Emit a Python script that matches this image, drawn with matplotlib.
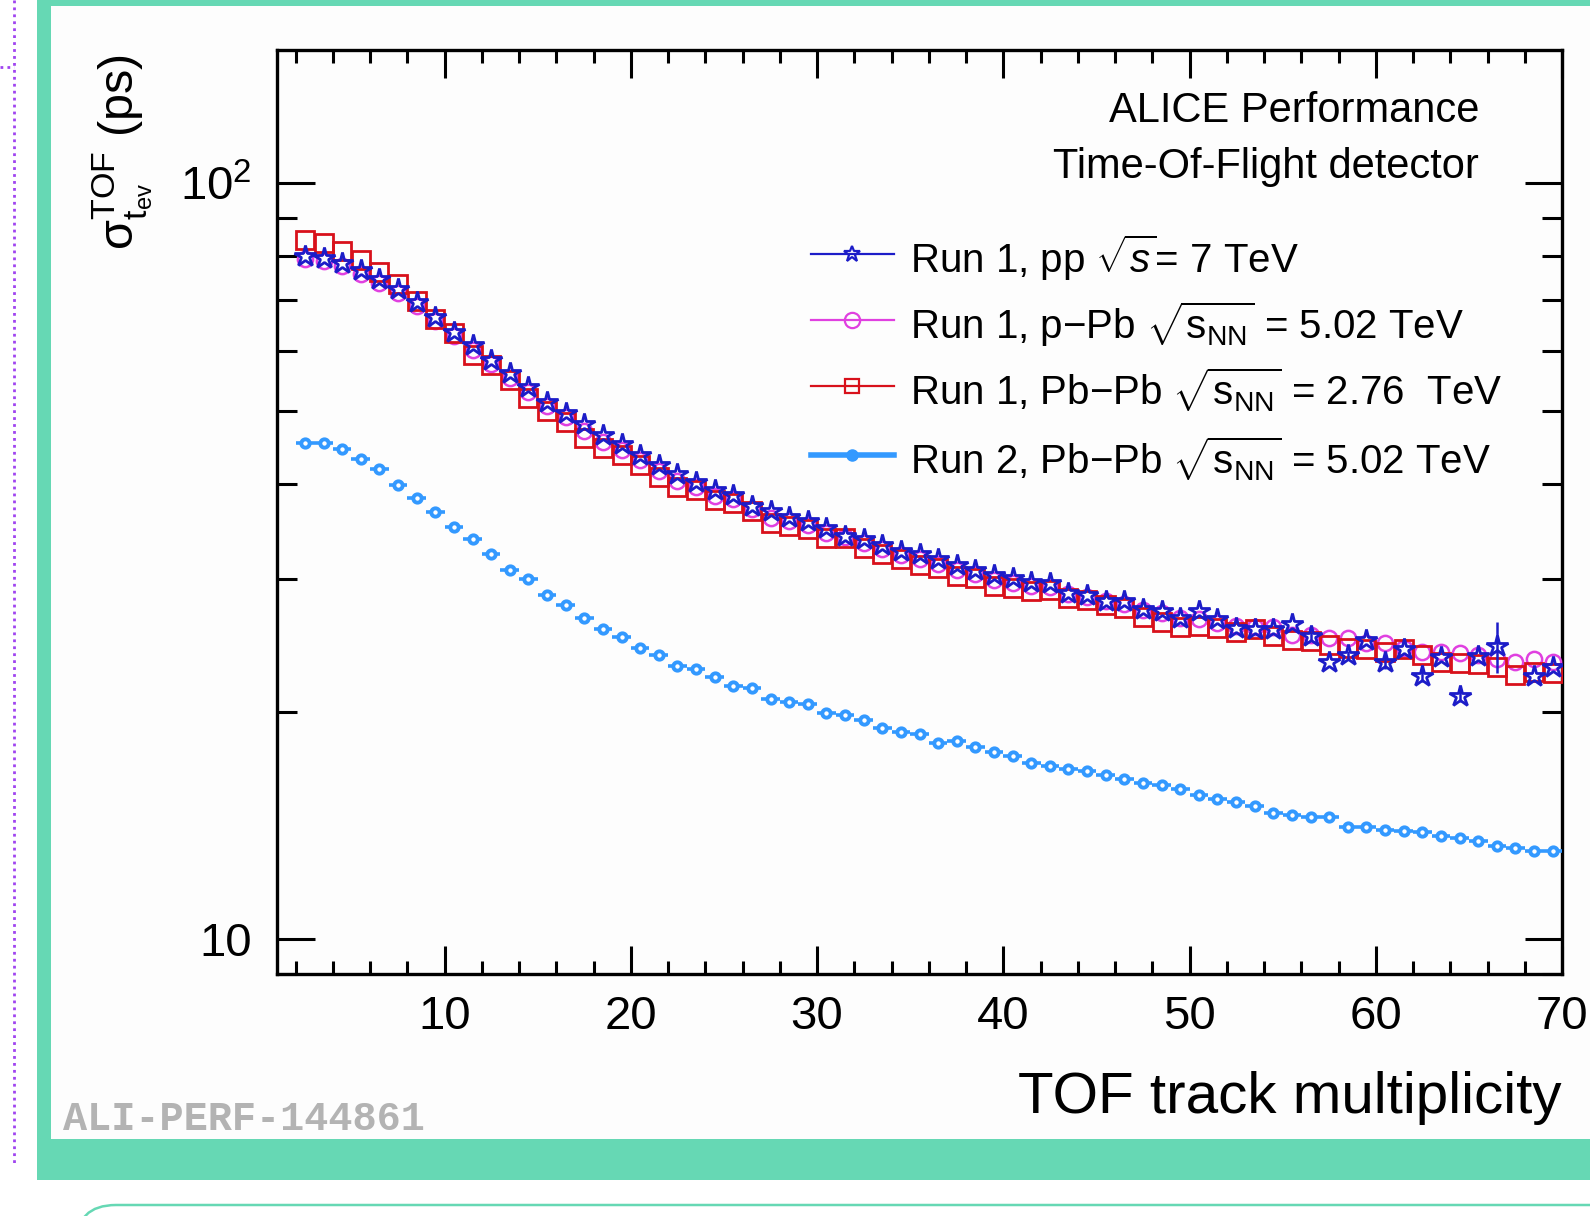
import numpy as np
import matplotlib
matplotlib.use("Agg")
import matplotlib.pyplot as plt
from matplotlib.lines import Line2D
from matplotlib.patches import Rectangle, FancyBboxPatch
from matplotlib.transforms import IdentityTransform
from matplotlib.ticker import MultipleLocator, LogLocator, NullFormatter

plt.rcParams['font.family'] = ['Liberation Sans', 'DejaVu Sans']
plt.rcParams['mathtext.fontset'] = 'custom'
plt.rcParams['mathtext.rm'] = 'Liberation Sans'
plt.rcParams['mathtext.it'] = 'Liberation Sans:italic'
plt.rcParams['mathtext.bf'] = 'Liberation Sans:bold'

# bin centres of TOF track multiplicity (bins of width 1, from 2 to 70)
mult = np.arange(2.5, 70.0, 1.0)

# Run 1, pp 7 TeV (stars)
pp_7 = [80.1, 79.6, 78.5, 76.7, 74.6, 72.4, 69.7, 66.6, 63.6, 61.1,
        58.4, 56.1, 53.8, 51.4, 49.7, 48.1, 46.5, 45.2, 43.7, 42.4,
        41.2, 40.3, 39.3, 38.7, 37.4, 36.8, 36.2, 35.7, 35.0, 34.2,
        33.8, 33.25, 32.6, 32.3, 31.8, 31.3, 30.8, 30.35, 30.05, 29.7,
        29.6, 28.7, 28.55, 28.0, 28.05, 27.35, 27.15, 26.6, 27.15, 26.5,
        25.8, 25.7, 25.7, 26.1, 25.2, 23.3, 23.8, 24.9, 23.3, 24.2,
        22.3, 23.6, 21.0, 23.7, 24.4, np.nan, 22.3, 22.9]
pp_err_x = [56.5, 58.5, 60.5, 62.5, 64.5, 66.5]
pp_err_y = [25.2, 23.8, 23.3, 22.3, 21.0, 24.4]
pp_err = [0.3, 0.3, 0.5, 0.4, 0.4, 1.9]

# Run 1, p-Pb 5.02 TeV (circles)
ppb_502 = [79.3, 78.8, 77.6, 75.8, 73.7, 71.5, 68.8, 65.7, 62.8, 60.2,
           57.6, 55.3, 53.0, 50.7, 49.0, 47.0, 45.5, 44.4, 43.0, 41.6,
           40.4, 39.7, 38.6, 38.2, 37.1, 36.1, 35.7, 35.3, 34.5, 34.0,
           33.4, 32.8, 32.2, 31.8, 31.4, 30.8, 30.4, 29.9, 29.6, 29.3,
           29.2, 28.6, 28.4, 28.0, 27.8, 27.3, 27.0, 26.6, 26.5, 26.2,
           26.0, 25.9, 25.9, 25.3, 25.3, 25.0, 25.0, 24.65, 24.65, 24.3,
           24.0, 24.0, 23.9, 23.8, 23.45, 23.3, 23.45, 23.3]

# Run 1, Pb-Pb 2.76 TeV (squares)
pbpb_276 = [84.1, 83.4, 81.4, 79.1, 76.3, 73.5, 69.8, 66.1, 63.3, 59.3,
            57.4, 54.9, 52.0, 49.9, 48.3, 46.0, 44.6, 43.7, 42.4, 40.9,
            39.7, 39.3, 38.1, 37.8, 36.8, 35.5, 35.2, 34.9, 33.96, 33.9,
            32.9, 32.3, 31.8, 31.3, 31.0, 30.2, 30.05, 29.3, 29.15, 28.85,
            29.0, 28.3, 28.1, 27.7, 27.4, 26.7, 26.3, 25.9, 26.0, 25.8,
            25.5, 25.7, 25.2, 24.9, 24.8, 24.5, 24.3, 24.2, 24.0, 24.2,
            23.8, 23.3, 23.2, 23.1, 22.9, 22.4, 22.55, 22.5]

# Run 2, Pb-Pb 5.02 TeV
pbpb_502 = [45.3, 45.3, 44.5, 43.2, 41.9, 39.9, 38.3, 36.7, 35.1, 33.8,
            32.3, 30.8, 30.0, 28.5, 27.7, 26.6, 25.7, 25.1, 24.3, 23.8,
            23.0, 22.8, 22.2, 21.6, 21.5, 20.8, 20.6, 20.5, 19.9, 19.8,
            19.5, 19.05, 18.8, 18.7, 18.2, 18.3, 17.95, 17.7, 17.5, 17.1,
            16.95, 16.8, 16.7, 16.5, 16.3, 16.1, 16.0, 15.8, 15.5, 15.35,
            15.2, 15.0, 14.7, 14.6, 14.5, 14.5, 14.1, 14.1, 13.97, 13.9,
            13.85, 13.7, 13.6, 13.5, 13.3, 13.2, 13.07, 13.07]

labels = [r'Run 1, pp $\sqrt{s}$= 7 TeV',
          r'Run 1, p$-$Pb $\sqrt{\mathrm{s}_{\mathrm{NN}}}$ = 5.02 TeV',
          r'Run 1, Pb$-$Pb $\sqrt{\mathrm{s}_{\mathrm{NN}}}$ = 2.76  TeV',
          r'Run 2, Pb$-$Pb $\sqrt{\mathrm{s}_{\mathrm{NN}}}$ = 5.02 TeV']

c_pp = '#1c1cc8'
c_ppb = '#e040e0'
c_pbpb = '#d8111b'
c_run2 = '#3399ff'
green = '#66d8b4'

W, H = 1590, 1216
fig = plt.figure(figsize=(W / 100, H / 100), dpi=100)
fig.patch.set_facecolor('white')
px = IdentityTransform()

# page decoration around the plot
fig.patches.append(Rectangle((37, H - 1180), W, 1180, transform=px,
                             facecolor=green, edgecolor='none', zorder=-5))
fig.patches.append(Rectangle((51, H - 1139), W, 1133, transform=px,
                             facecolor='#fdfdfd', edgecolor='none', zorder=-4))
fig.add_artist(Line2D([14, 14], [H, H - 1165], transform=px, color='#a044f0',
                      lw=2, ls=(0, (1, 1.5))))
fig.add_artist(Line2D([0, 14], [H - 67, H - 67], transform=px, color='#a044f0',
                      lw=2, ls=(0, (1, 1.5))))
fig.patches.append(FancyBboxPatch((80, -60), 1600, H - 1207 + 60, transform=px,
                                  boxstyle='round,pad=0,rounding_size=40',
                                  facecolor='#e9e9e9', edgecolor='none', zorder=-6))
fig.patches.append(FancyBboxPatch((76, -60), 1600, H - 1205 + 60, transform=px,
                                  boxstyle='round,pad=0,rounding_size=40',
                                  facecolor='white', edgecolor=green, lw=1.8, zorder=-5))

ax = fig.add_axes([277 / W, 242 / H, 1285 / W, 924 / H])
ax.set_facecolor('#fdfdfd')

ax.plot(mult, ppb_502, 'o', ms=11, mfc='none', mec=c_ppb, mew=1.8, zorder=3)
ax.plot(mult, pbpb_276, 's', ms=12.5, mfc='none', mec=c_pbpb, mew=2.0, zorder=4)
ax.errorbar(pp_err_x, pp_err_y, yerr=pp_err, fmt='none', ecolor=c_pp, elinewidth=1.8, zorder=5)
ax.plot(mult, pp_7, '*', ms=16, mfc='none', mec=c_pp, mew=2.0, zorder=5)
ax.errorbar(mult, pbpb_502, xerr=0.5, fmt='o', color=c_run2, ms=6, mfc='white',
            mec=c_run2, mew=2.8, elinewidth=2.6, capsize=0, zorder=6)

ax.set_xlim(1, 70)
ax.set_ylim(9, 150)
ax.set_yscale('log')
ax.set_yticks([10, 100])
ax.set_yticklabels(['10', r'$10^{2}$'])
ax.yaxis.set_minor_locator(LogLocator(base=10, subs=np.arange(2, 10)))
ax.yaxis.set_minor_formatter(NullFormatter())
ax.xaxis.set_major_locator(MultipleLocator(10))
ax.xaxis.set_minor_locator(MultipleLocator(2))

for s in ax.spines.values():
    s.set_linewidth(2.4)
ax.tick_params(which='both', direction='in', top=True, right=True, width=2.2, labelsize=34)
ax.tick_params(axis='x', which='major', length=20, pad=15)
ax.tick_params(axis='x', which='minor', length=9.5)
ax.tick_params(axis='y', which='major', length=27, pad=18)
ax.tick_params(axis='y', which='minor', length=14.5)

ax.set_xlabel('TOF track multiplicity', fontsize=42, ha='right', va='baseline')
ax.xaxis.set_label_coords(1.0, (974 - 1113) / 924)
ax.set_ylabel(r'$\mathrm{\sigma}_{\mathrm{t}_{\mathrm{ev}}}^{\mathrm{TOF}}$ (ps)', fontsize=35,
              ha='center', va='baseline')
ax.yaxis.set_label_coords((135 - 277) / 1285, (974 - 152) / 924)

# header text
fig.text(1479, H - 122, 'ALICE Performance', transform=px, fontsize=30,
         ha='right', va='baseline')
fig.text(1479, H - 178, 'Time-Of-Flight detector', transform=px, fontsize=30,
         ha='right', va='baseline')

# legend drawn by hand
rows_y = [254, 320, 386, 455]
styles = [dict(color=c_pp, lw=1.6, marker='*', ms=12, mfc='none', mew=1.6),
          dict(color=c_ppb, lw=1.6, marker='o', ms=11, mfc='none', mew=1.6),
          dict(color=c_pbpb, lw=1.6, marker='s', ms=10, mfc='none', mew=1.6),
          dict(color=c_run2, lw=4, marker='o', ms=8, mfc=c_run2, mew=1)]
for yy, lab, st in zip(rows_y, labels, styles):
    fig.add_artist(Line2D([811, 894], [H - yy, H - yy], transform=px,
                          color=st['color'], lw=st['lw']))
    fig.add_artist(Line2D([852], [H - yy], transform=px, ls='none',
                          marker=st['marker'], ms=st['ms'], mfc=st['mfc'],
                          mec=st['color'], mew=st['mew']))
    fig.text(910, H - yy - 19, lab, transform=px, fontsize=29, ha='left', va='baseline')

fig.text(63, H - 1130, 'ALI-PERF-144861', transform=px, fontsize=29,
         family='Liberation Mono', weight='bold', color='#b3b3b3', ha='left', va='baseline')

fig.savefig('out.png', dpi=100)
